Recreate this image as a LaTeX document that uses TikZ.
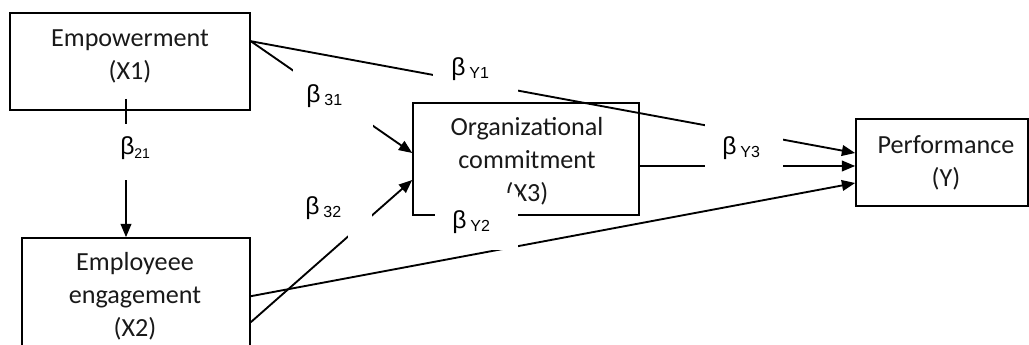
\documentclass[tikz,border=0pt]{standalone}
\usepackage{fontspec}
\setmainfont{Carlito}
\newfontfamily\labfont{Liberation Sans}
\usetikzlibrary{arrows.meta,calc}
\newcommand{\bl}[3]{{\labfont\fontsize{18.5}{18.5}\selectfont β\hspace{#1}\raisebox{-2.6pt}{\fontsize{#3}{#3}\selectfont #2}}}
\begin{document}
\begin{tikzpicture}[x=0.75pt,y=-0.75pt,
  box/.style={draw, line width=1.2pt, inner sep=0pt},
  txt/.style={align=center, font=\fontsize{19.6}{24.75}\selectfont, text=black!90, inner sep=0pt},
  mask/.style={fill=white, inner sep=0pt},
  conn/.style={line width=1.4pt},
  arr/.style={conn, -{Triangle[length=10pt,width=8pt]}},
  lbl/.style={anchor=base west, inner sep=0pt}]
\useasboundingbox (0,0) rectangle (1029,345);
\clip (0,0) rectangle (1029,345);
\fill[white] (0,0) rectangle (1029,345);
% boxes
\node[box, minimum width=180pt, minimum height=72.75pt] (e1) at (130,61.5) {};
\node[box, minimum width=171pt, minimum height=121.5pt] (e2) at (136,319) {};
\node[box, minimum width=169.5pt, minimum height=84pt] (org) at (526,159) {};
\node[box, minimum width=129pt, minimum height=65.25pt] (perf) at (942,162.5) {};
% texts
\node[txt] (t1) at (130,56.5) {Empowerment\\(X1)};
\node[txt] (t2) at (135,296) {Employeee\\engagement\\(X2)};
\node[txt] (t3) at (527,161.5) {Organizational\\commitment\\(X3)};
\node[txt] (t4) at (946,162.5) {Performance\\(Y)};
% connectors
\draw[arr] ($(e1.south)+(-4,-12)$) -- ($(e2.north)+(-10,0)$);
\draw[arr] ($(e1.north east)+(0,29)$) -- ($(org.west)+(0,-6)$);
\draw[arr] ($(e2.north east)+(0,85)$) -- ($(org.west)+(0,21)$);
\draw[arr] ($(e1.north east)+(0,29)$) -- ($(perf.west)+(0,-9.5)$);
\draw[arr] ($(org.east)+(0,7)$) -- ($(perf.west)+(0,3.5)$);
\draw[arr] ($(e2.north east)+(0,59)$) -- ($(perf.west)+(0,20.5)$);
% masks
\node[mask, minimum width=15pt, minimum height=42pt] (m21) at (126,152) {};
\node[mask, minimum width=60pt, minimum height=46.5pt] (m31) at (333,99) {};
\node[mask, minimum width=18pt, minimum height=37.5pt] (m32) at (360,215) {};
\node[mask, minimum width=63.75pt, minimum height=26.25pt] (mY1) at (475.5,77.5) {};
\node[mask, minimum width=61.875pt, minimum height=43.125pt] (mY2) at (476.25,221.75) {};
\node[mask, minimum width=58.5pt, minimum height=39pt] (mY3) at (744,146) {};
% labels
\node[lbl] (l21) at (120,155) {\bl{0pt}{21}{10.5}};
\node[lbl] (l31) at (306,102.5) {\bl{3pt}{31}{12}};
\node[lbl] (l32) at (305,214.5) {\bl{3pt}{32}{12}};
\node[lbl] (lY1) at (451,75.5) {\bl{3pt}{Y1}{12}};
\node[lbl] (lY2) at (452,228.5) {\bl{3pt}{Y2}{12}};
\node[lbl] (lY3) at (722,154.5) {\bl{3pt}{Y3}{12}};
\end{tikzpicture}
\end{document}
